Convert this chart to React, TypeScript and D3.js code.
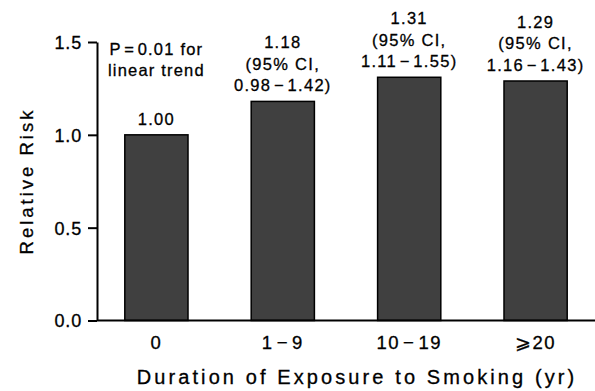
import { useRef, useEffect } from 'react'
import * as d3 from 'd3'

const categories = ['0', '1\u200A\u2212\u200A9', '10\u200A\u2212\u200A19', '\u2A7E20']
const relativeRisk = [1.0, 1.18, 1.31, 1.29]
const ciLow = [null, 0.98, 1.11, 1.16]
const ciHigh = [null, 1.42, 1.55, 1.43]
const yTicks = [0, 0.5, 1.0, 1.5]
const trendNote = ['P\u200A=\u200A0.01 for', 'linear trend']

const width = 595
const height = 391
const margin = { top: 42, right: 0, bottom: 70.5, left: 97 }
const font = '"Liberation Sans", Arial, Helvetica, sans-serif'

function styleText(sel, size, spacing) {
  sel
    .attr('font-family', font)
    .attr('font-size', size)
    .attr('letter-spacing', spacing)
    .attr('fill', '#000')
    .attr('stroke', '#000')
    .attr('stroke-width', 0.3)
}

function drawChart(targetSVG) {
  const svg = d3.select(targetSVG)
  svg.selectAll('*').remove()

  const x = d3
    .scaleBand()
    .domain(categories)
    .range([margin.left, width - margin.right])
    .paddingInner(0.5)
    .paddingOuter(0.22)

  const y = d3
    .scaleLinear()
    .domain([0, 1.5])
    .range([height - margin.bottom, margin.top])

  // bars
  svg
    .append('g')
    .selectAll('rect')
    .data(relativeRisk)
    .join('rect')
    .attr('x', (d, i) => x(categories[i]))
    .attr('y', (d) => y(d))
    .attr('width', x.bandwidth())
    .attr('height', (d) => y(0) - y(d))
    .attr('fill', '#404040')
    .attr('stroke', '#000')
    .attr('stroke-width', 1.5)

  // y axis
  const yAxis = d3
    .axisLeft(y)
    .tickValues(yTicks)
    .tickFormat(d3.format('.1f'))
    .tickSize(9)
    .tickSizeOuter(0)
    .tickPadding(6)

  const yg = svg.append('g').attr('transform', `translate(${margin.left},0)`).call(yAxis)
  yg.select('.domain').attr('stroke-width', 2)
  yg.selectAll('.tick line').attr('stroke-width', 2)
  yg.selectAll('.tick text').call(styleText, 18, 0.8).attr('dy', '0.36em')

  // x axis line
  svg
    .append('line')
    .attr('x1', margin.left)
    .attr('x2', width)
    .attr('y1', y(0))
    .attr('y2', y(0))
    .attr('stroke', '#000')
    .attr('stroke-width', 2)

  const xAxis = d3.axisBottom(x).tickSize(0).tickPadding(15)
  const xg = svg.append('g').attr('transform', `translate(0,${y(0)})`).call(xAxis)
  xg.select('.domain').remove()
  xg.selectAll('.tick text').call(styleText, 18.5, 1.5)

  // value labels above bars
  const lineH = 21.5
  relativeRisk.forEach((v, i) => {
    const lines = [d3.format('.2f')(v)]
    if (ciLow[i] != null) {
      lines.push('(95% CI,')
      lines.push(`${d3.format('.2f')(ciLow[i])}\u200A\u2212\u200A${d3.format('.2f')(ciHigh[i])})`)
    }
    const cx = x(categories[i]) + x.bandwidth() / 2
    const baseY = y(v) - 10
    svg
      .append('g')
      .selectAll('text')
      .data(lines)
      .join('text')
      .attr('x', cx)
      .attr('y', (d, j) => baseY - (lines.length - 1 - j) * lineH)
      .attr('text-anchor', 'middle')
      .call(styleText, 16.5, 1.3)
      .text((d) => d)
  })

  // trend note
  svg
    .append('g')
    .selectAll('text')
    .data(trendNote)
    .join('text')
    .attr('x', x(categories[0]) + x.bandwidth() / 2)
    .attr('y', (d, j) => 55 + j * 20.5)
    .attr('text-anchor', 'middle')
    .call(styleText, 16.5, 1.2)
    .text((d) => d)

  // axis titles
  svg
    .append('text')
    .attr('transform', `translate(33,181) rotate(-90)`)
    .attr('text-anchor', 'middle')
    .call(styleText, 18.5, 3)
    .text('Relative Risk')

  svg
    .append('text')
    .attr('x', 357)
    .attr('y', 384)
    .attr('text-anchor', 'middle')
    .call(styleText, 20, 3.1)
    .text('Duration of Exposure to Smoking (yr)')
}

export default function App() {
  const targetSVG = useRef(null)

  useEffect(() => {
    drawChart(targetSVG.current)
  }, [])

  return (
    <svg
      ref={targetSVG}
      width={width}
      height={height}
      style={{ position: 'absolute', left: 0, top: 0, background: '#fff' }}
    />
  )
}
